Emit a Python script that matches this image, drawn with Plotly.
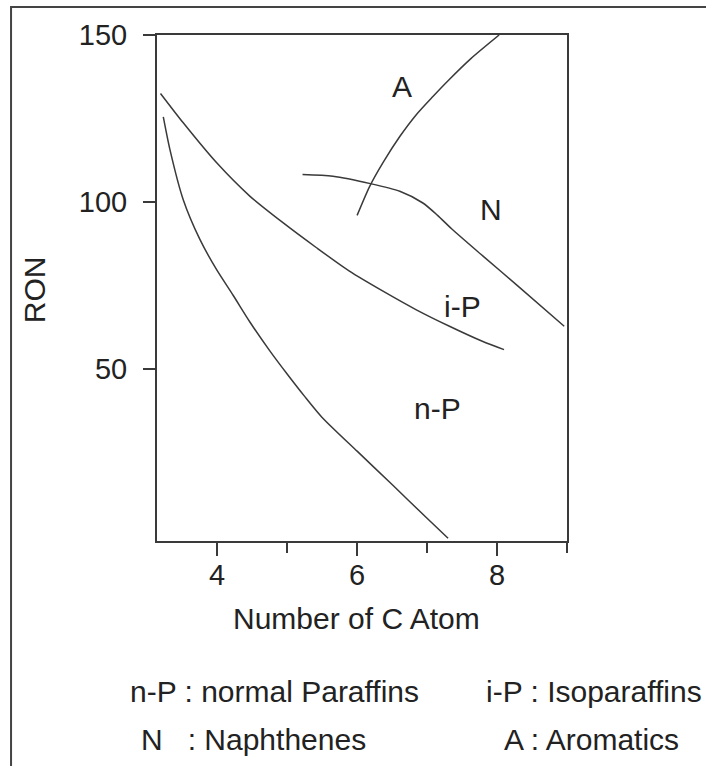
import plotly.graph_objects as go

# ---- data ----
np_x = [3.23, 3.325, 3.515, 3.753, 3.99, 4.23, 4.47, 4.75, 5.0, 5.25, 5.5, 6.0, 6.5, 7.0, 7.30]
np_y = [125.5, 115.7, 100.7, 88.8, 79.8, 72.0, 64.0, 55.5, 48.5, 41.8, 35.5, 25.4, 15.4, 5.3, -0.7]

ip_x = [3.19, 3.515, 3.99, 4.47, 4.94, 5.42, 5.89, 6.37, 6.84, 7.32, 7.79, 8.10]
ip_y = [132.5, 123.7, 111.8, 101.7, 93.8, 86.3, 79.3, 73.3, 67.8, 62.8, 58.3, 55.8]

n_x = [5.22, 5.655, 6.19, 6.61, 6.94, 7.15, 7.35, 7.8, 8.3, 8.96]
n_y = [108.2, 107.7, 105.5, 103.2, 99.7, 96.0, 92.0, 83.8, 74.8, 62.8]

a_x = [6.0, 6.18, 6.37, 6.61, 6.84, 7.08, 7.30, 7.63, 8.03]
a_y = [96.0, 104.7, 111.8, 119.6, 126.0, 131.5, 136.3, 143.0, 150.0]

curve_labels = ["A", "N", "i-P", "n-P"]
label_x = [6.645, 7.915, 7.51, 7.15]
label_y = [134.7, 97.7, 68.8, 38.3]

x_ticks = [4, 6, 8]
y_ticks = [50, 100, 150]

legend_lines = ["n-P : normal Paraffins", "i-P : Isoparaffins",
                "N\u00a0\u00a0\u00a0: Naphthenes", "A : Aromatics"]

FONT = "Liberation Sans, Arial, Helvetica, sans-serif"
INK = "#222222"
LINE = "#3a3a3a"
TXT = 30
TICK = 29

fig = go.Figure()
for xs, ys in [(np_x, np_y), (ip_x, ip_y), (n_x, n_y), (a_x, a_y)]:
    fig.add_trace(go.Scatter(x=xs, y=ys, mode="lines",
                             line=dict(color=LINE, width=1.5, shape="spline", smoothing=0.7),
                             showlegend=False, hoverinfo="skip", cliponaxis=True))

for t, x, y in zip(curve_labels, label_x, label_y):
    fig.add_annotation(x=x, y=y, xref="x", yref="y", text=t, showarrow=False,
                       xanchor="center", yanchor="middle",
                       font=dict(family=FONT, size=TXT, color=INK))

# axis titles
fig.add_annotation(x=0.487, y=-0.154, xref="paper", yref="paper", text="Number of C Atom",
                   showarrow=False, xanchor="center", yanchor="middle",
                   font=dict(family=FONT, size=TXT, color=INK))
fig.add_annotation(x=-0.2995, y=0.496, xref="paper", yref="paper", text="RON", textangle=-90,
                   showarrow=False, xanchor="center", yanchor="middle",
                   font=dict(family=FONT, size=TXT, color=INK))

# key lines
leg_pos = [(-0.07, -0.298), (0.7966, -0.298), (-0.0434, -0.393), (0.8405, -0.393)]
for t, (px, py) in zip(legend_lines, leg_pos):
    fig.add_annotation(x=px, y=py, xref="paper", yref="paper", text=t, showarrow=False,
                       xanchor="left", yanchor="middle",
                       font=dict(family=FONT, size=TXT, color=INK))

# outer frame
fig.add_shape(type="rect", xref="paper", yref="paper", x0=-0.356, x1=1.6, y0=-0.7, y1=1.0553,
              line=dict(color="#444444", width=2), layer="below")

fig.update_xaxes(range=[3.14, 9.0], tickvals=x_ticks, ticks="outside", ticklen=13, tickwidth=2,
                 tickcolor=LINE, showline=True, linecolor=LINE, linewidth=2, mirror=True,
                 showgrid=False, zeroline=False, ticklabelstandoff=-6,
                 minor=dict(dtick=1, tick0=0, ticks="outside", ticklen=10, tickwidth=2, tickcolor=LINE),
                 tickfont=dict(family=FONT, size=TICK, color=INK))
fig.update_yaxes(range=[-1.5, 150], tickvals=y_ticks, ticks="outside", ticklen=12, tickwidth=2,
                 tickcolor=LINE, showline=True, linecolor=LINE, linewidth=2, mirror=True,
                 showgrid=False, zeroline=False, ticklabelstandoff=10,
                 tickfont=dict(family=FONT, size=TICK, color=INK))

fig.update_layout(width=706, height=766, margin=dict(l=157, r=139, t=35, b=225),
                  plot_bgcolor="white", paper_bgcolor="white", showlegend=False)

fig.write_html("out.html", config={"displayModeBar": False},
               post_script="document.body.style.margin='0';document.body.style.overflow='hidden';")
